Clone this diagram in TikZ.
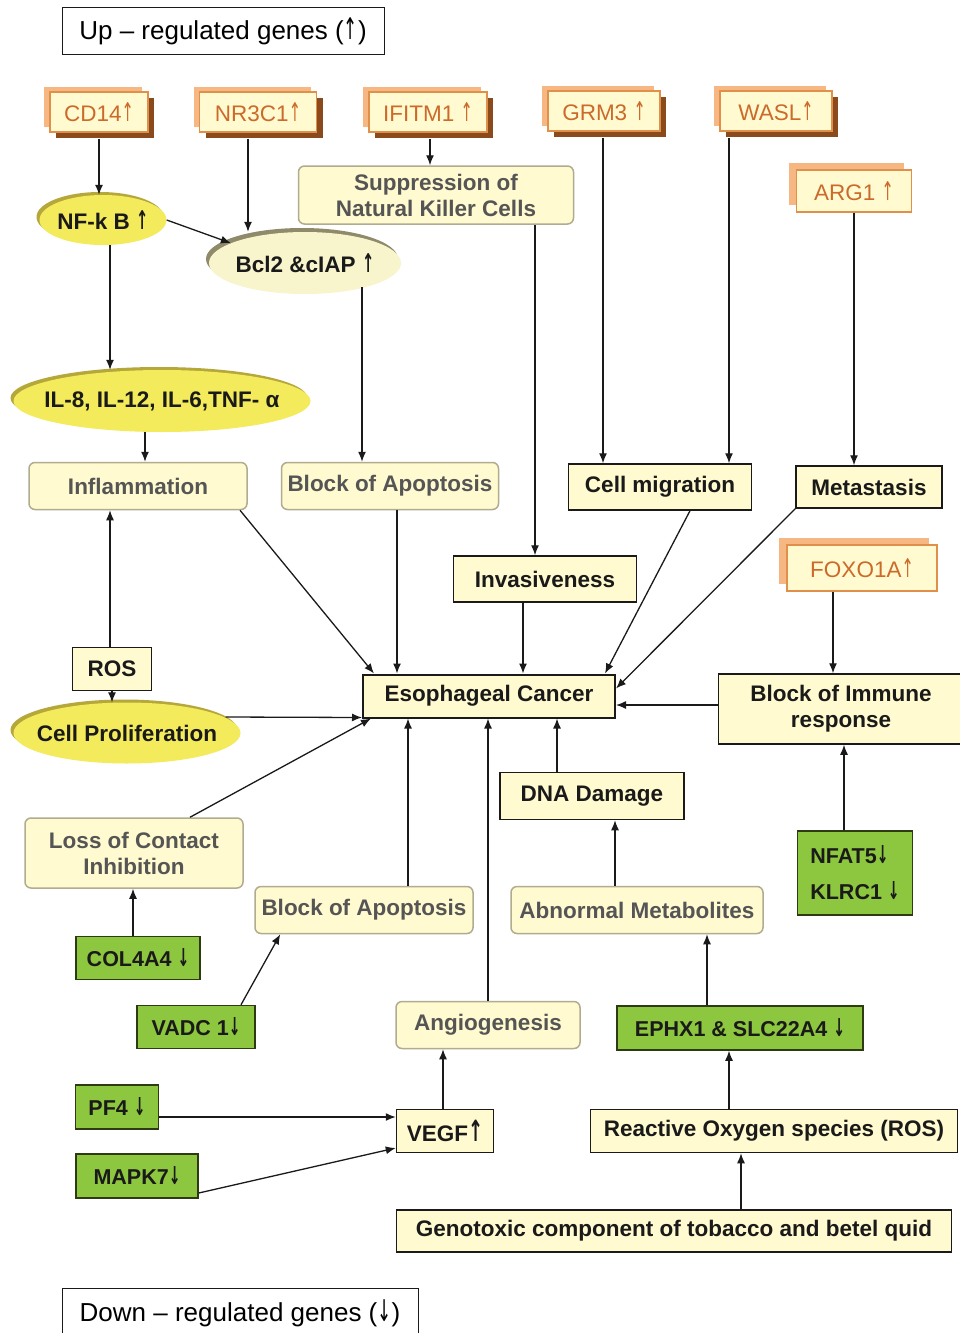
\documentclass[tikz,border=0pt]{standalone}
\usepackage{fontspec}
\setmainfont{Liberation Sans}
\newfontfamily\arrowfont{DejaVu Sans}
\usepackage{graphicx}
\usepackage{xcolor}
\usepackage{tikz}
\usetikzlibrary{arrows.meta,shapes.geometric,shadows,positioning}
\definecolor{Black}{HTML}{1A1A1A}
\definecolor{White}{HTML}{FFFFFF}
\definecolor{Cream}{HTML}{FFFACF}
\definecolor{GrayText}{HTML}{555555}
\definecolor{EffectLine}{HTML}{B0AC90}
\definecolor{GeneBorder}{HTML}{E0904A}
\definecolor{GeneText}{HTML}{CC6A2C}
\definecolor{GenePlate}{HTML}{F6B783}
\definecolor{GeneShade}{HTML}{8B4A1C}
\definecolor{Lemon}{HTML}{F3EA5C}
\definecolor{LemonRim}{HTML}{B5A73A}
\definecolor{PaleLemon}{HTML}{F8F4CC}
\definecolor{PaleRim}{HTML}{8E8A6A}
\definecolor{Leaf}{HTML}{8DC63F}
\definecolor{LeafLine}{HTML}{2E3A14}

\newcommand{\boxfont}{\fontsize{22.5}{26}\selectfont\bfseries}
\newcommand{\genefont}{\fontsize{22.5}{26}\selectfont}
\newcommand{\geneup}{\scalebox{0.65}[1.15]{\arrowfont ↑}}
\newcommand{\genedown}{\scalebox{0.65}[1.15]{\arrowfont ↓}}

\begin{document}
\begin{tikzpicture}[x=1pt, y=-1pt]
  \tikzstyle{legend} = [rectangle, draw=Black, line width=1pt, fill=White, inner sep=0pt, font=\fontsize{26}{30}\selectfont]
  \tikzstyle{gene} = [rectangle, draw=GeneBorder, line width=1.2pt, fill=Cream, text=GeneText, inner sep=0pt, minimum height=40pt, font=\genefont, general shadow={fill=GeneShade, shadow xshift=6pt, shadow yshift=-6pt}, general shadow={fill=GenePlate, shadow xshift=-6pt, shadow yshift=5pt}]
  \tikzstyle{geneflat} = [rectangle, draw=GeneBorder, line width=1.2pt, fill=Cream, text=GeneText, inner sep=0pt, font=\genefont, general shadow={fill=GenePlate, shadow xshift=-8pt, shadow yshift=7pt}]
  \tikzstyle{blob} = [ellipse, fill=Lemon, text=Black, inner xsep=-100pt, inner ysep=-20pt, font=\boxfont, general shadow={fill=LemonRim, shadow xshift=-3pt, shadow yshift=3pt}]
  \tikzstyle{paleblob} = [ellipse, fill=PaleLemon, text=Black, inner xsep=-100pt, inner ysep=-20pt, font=\boxfont, general shadow={fill=PaleRim, shadow xshift=-3pt, shadow yshift=4pt}]
  \tikzstyle{effect} = [rectangle, rounded corners=6pt, draw=EffectLine, line width=1.5pt, fill=Cream, text=GrayText, inner sep=0pt, minimum height=47pt, font=\boxfont, align=center]
  \tikzstyle{outcome} = [rectangle, draw=Black, line width=1.5pt, fill=Cream, text=Black, inner sep=0pt, minimum height=46pt, font=\boxfont, align=center]
  \tikzstyle{downgene} = [rectangle, draw=LeafLine, line width=1.5pt, fill=Leaf, text=Black, inner sep=0pt, minimum height=44pt, font=\boxfont\fontsize{21.5}{26}\selectfont, align=left]
  \tikzstyle{conn} = [-{Latex[length=10pt,width=8pt]}, line width=1.3pt, draw=Black]

  \fill[White] (0,0) rectangle (959,1333);
  \useasboundingbox (0,0) rectangle (959,1333);

  % legends
  \node [legend, minimum width=322pt, minimum height=47pt] (upkey) at (223,31) {Up -- regulated genes (\geneup)};
  \node [legend, minimum width=356pt, minimum height=50pt, anchor=north] (downkey) at (240,1288) {Down -- regulated genes (\genedown)};

  % up-regulated genes
  \node [gene, minimum width=98pt] (cd14) at (99,112) {CD14\geneup};
  \node [gene, minimum width=117pt] (nr3c1) at (258,112) {NR3C1\geneup};
  \node [gene, minimum width=118pt] (ifitm1) at (428,112) {IFITM1 \geneup};
  \node [gene, minimum width=112pt] (grm3) at (604,111) {GRM3 \geneup};
  \node [gene, minimum width=112pt] (wasl) at (776,111) {WASL\geneup};
  \node [geneflat, minimum width=115pt, minimum height=42pt] (arg1) at (854,191) {ARG1 \geneup};
  \node [geneflat, minimum width=150pt, minimum height=46pt] (foxo) at (862,568) {FOXO1A\geneup};

  % yellow ellipses
  \node [blob, minimum width=127pt, minimum height=50pt] (nfkb) at (103,220) {NF-k B \geneup};
  \node [paleblob, minimum width=192pt, minimum height=62pt] (bcl2) at (305,263) {Bcl2 \&cIAP \geneup};
  \node [blob, minimum width=297pt, minimum height=62pt] (il) at (162,401) {IL-8, IL-12, IL-6,TNF- α};
  \node [blob, minimum width=227pt, minimum height=61pt] (prolif) at (127,733) {Cell Proliferation};

  % effects
  \node [effect, minimum width=275pt, minimum height=58pt] (supnk) at (436,195) {Suppression of\\Natural Killer Cells};
  \node [effect, minimum width=218pt] (inflam) at (138,486) {Inflammation};
  \node [effect, minimum width=217pt] (apopup) at (390,486) {Block of Apoptosis};
  \node [effect, minimum width=218pt, minimum height=70pt] (loss) at (134,853) {Loss of Contact\\Inhibition};
  \node [effect, minimum width=218pt] (apoplow) at (364,910) {Block of Apoptosis};
  \node [effect, minimum width=252pt] (abnorm) at (637,910) {Abnormal Metabolites};
  \node [effect, minimum width=184pt] (angio) at (488,1025) {Angiogenesis};

  % outcomes
  \node [outcome, minimum width=183pt] (migr) at (660,487) {Cell migration};
  \node [outcome, minimum width=146pt, minimum height=42pt] (meta) at (869,487) {Metastasis};
  \node [outcome, minimum width=183pt] (invas) at (545,579) {Invasiveness};
  \node [outcome, minimum width=252pt, minimum height=43pt, line width=2pt] (esca) at (489,696) {Esophageal Cancer};
  \node [outcome, minimum width=245pt, minimum height=70pt] (immune) at (841,709) {Block of Immune\\response};
  \node [outcome, minimum width=79pt, minimum height=43pt] (ros) at (112,669) {ROS};
  \node [outcome, minimum width=184pt, minimum height=47pt] (dna) at (592,796) {DNA Damage};
  \node [outcome, minimum width=97pt, minimum height=43pt] (vegf) at (445,1131) {VEGF\scalebox{0.8}[1.3]{\arrowfont ↑}};
  \node [outcome, minimum width=367pt, minimum height=43pt] (rosbox) at (774,1131) {Reactive Oxygen species (ROS)};
  \node [outcome, minimum width=555pt, minimum height=42pt] (genotox) at (674,1231) {Genotoxic component of tobacco and betel quid};

  % down-regulated genes
  \node [downgene, minimum width=115pt, minimum height=84pt] (nfat) at (855,873) {NFAT5\genedown\\[10pt]KLRC1 \genedown};
  \node [downgene, minimum width=124pt, minimum height=43pt] (col4a4) at (138,958) {COL4A4 \genedown};
  \node [downgene, minimum width=118pt, minimum height=43pt] (vadc) at (196,1027) {VADC 1\genedown};
  \node [downgene, minimum width=246pt] (ephx) at (740,1028) {EPHX1 \& SLC22A4 \genedown};
  \node [downgene, minimum width=83pt] (pf4) at (117,1107) {PF4 \genedown};
  \node [downgene, minimum width=122pt] (mapk7) at (137,1176) {MAPK7\genedown};

  % connectors, top half
  \draw[conn] ([yshift=-6pt]cd14.south) -- (cd14.south |- nfkb.north);
  \draw[conn] ([xshift=-10pt,yshift=-6pt]nr3c1.south) -- ([xshift=-10pt]nr3c1.south |- bcl2.north);
  \draw[conn] (nfkb.east) -- (bcl2.165);
  \draw[conn] ([xshift=7pt]nfkb.south) -- ([xshift=7pt]nfkb.south |- il.north);
  \draw[conn] ([xshift=-17pt]il.south) -- ([xshift=-17pt]il.south |- inflam.north);
  \draw[conn] ([xshift=57pt,yshift=7pt]bcl2.south) -- ([xshift=-28pt]apopup.north);
  \draw[conn] ([xshift=2pt,yshift=-6pt]ifitm1.south) -- ([xshift=2pt]ifitm1.south |- supnk.north);
  \draw[conn] ([xshift=99pt]supnk.south) -- ([xshift=-10pt]invas.north);
  \draw[conn] ([xshift=-1pt,yshift=-6pt]grm3.south) -- ([xshift=-1pt]grm3.south |- migr.north);
  \draw[conn] ([xshift=-47pt,yshift=-6pt]wasl.south) -- ([xshift=-47pt]wasl.south |- migr.north);
  \draw[conn] (arg1.south) -- (arg1.south |- meta.north);

  % connectors into the cancer box
  \draw[conn] ([xshift=102pt]inflam.south) -- ([xshift=12pt]esca.north west);
  \draw[conn] ([xshift=7pt]apopup.south) -- ([xshift=7pt]apopup.south |- esca.north);
  \draw[conn] ([xshift=-22pt]invas.south) -- ([xshift=-22pt]invas.south |- esca.north);
  \draw[conn] ([xshift=30pt]migr.south) -- ([xshift=-11pt]esca.north east);
  \draw[conn] (meta.south west) -- ([yshift=-15pt]esca.north east);
  \draw[conn] ([xshift=-29pt]foxo.south) -- ([xshift=-29pt]foxo.south |- immune.north);
  \draw[conn] ([yshift=4pt]immune.west) -- ([yshift=4pt]immune.west -| esca.east);
  \draw[conn] ([xshift=-2pt]ros.north) -- ([xshift=-2pt]ros.north |- inflam.south);
  \draw[conn] (ros.south) -- (ros.south |- prolif.north);
  \draw[conn] ([xshift=-15pt,yshift=16pt]prolif.east) -- ([yshift=1pt]esca.south west);
  \draw[conn] ([xshift=56pt]loss.north) -- ([xshift=9pt]esca.south west);
  \draw[conn] ([xshift=44pt]apoplow.north) -- ([xshift=44pt]apoplow.north |- esca.south);
  \draw[conn] (angio.north) -- (angio.north |- esca.south);
  \draw[conn] ([xshift=-35pt]dna.north) -- ([xshift=-35pt]dna.north |- esca.south);

  % connectors, bottom half
  \draw[conn] ([xshift=-11pt]nfat.north) -- ([xshift=-11pt]nfat.north |- immune.south);
  \draw[conn] ([xshift=-22pt]abnorm.north) -- ([xshift=-22pt]abnorm.north |- dna.south);
  \draw[conn] ([xshift=-5pt]col4a4.north) -- ([xshift=-5pt]col4a4.north |- loss.south);
  \draw[conn] ([xshift=45pt]vadc.north) -- ([xshift=26pt]apoplow.south west);
  \draw[conn] ([xshift=-33pt]ephx.north) -- ([xshift=-33pt]ephx.north |- abnorm.south);
  \draw[conn] ([xshift=-2pt]vegf.north) -- ([xshift=-2pt]vegf.north |- angio.south);
  \draw[conn] ([yshift=-10pt]pf4.east) -- ([yshift=-10pt]pf4.east -| vegf.west);
  \draw[conn] ([yshift=-17pt]mapk7.east) -- ([yshift=-17pt]vegf.west);
  \draw[conn] ([xshift=-45pt]rosbox.north) -- ([xshift=-45pt]rosbox.north |- ephx.south);
  \draw[conn] ([xshift=67pt]genotox.north) -- ([xshift=67pt]genotox.north |- rosbox.south);
\end{tikzpicture}
\end{document}
